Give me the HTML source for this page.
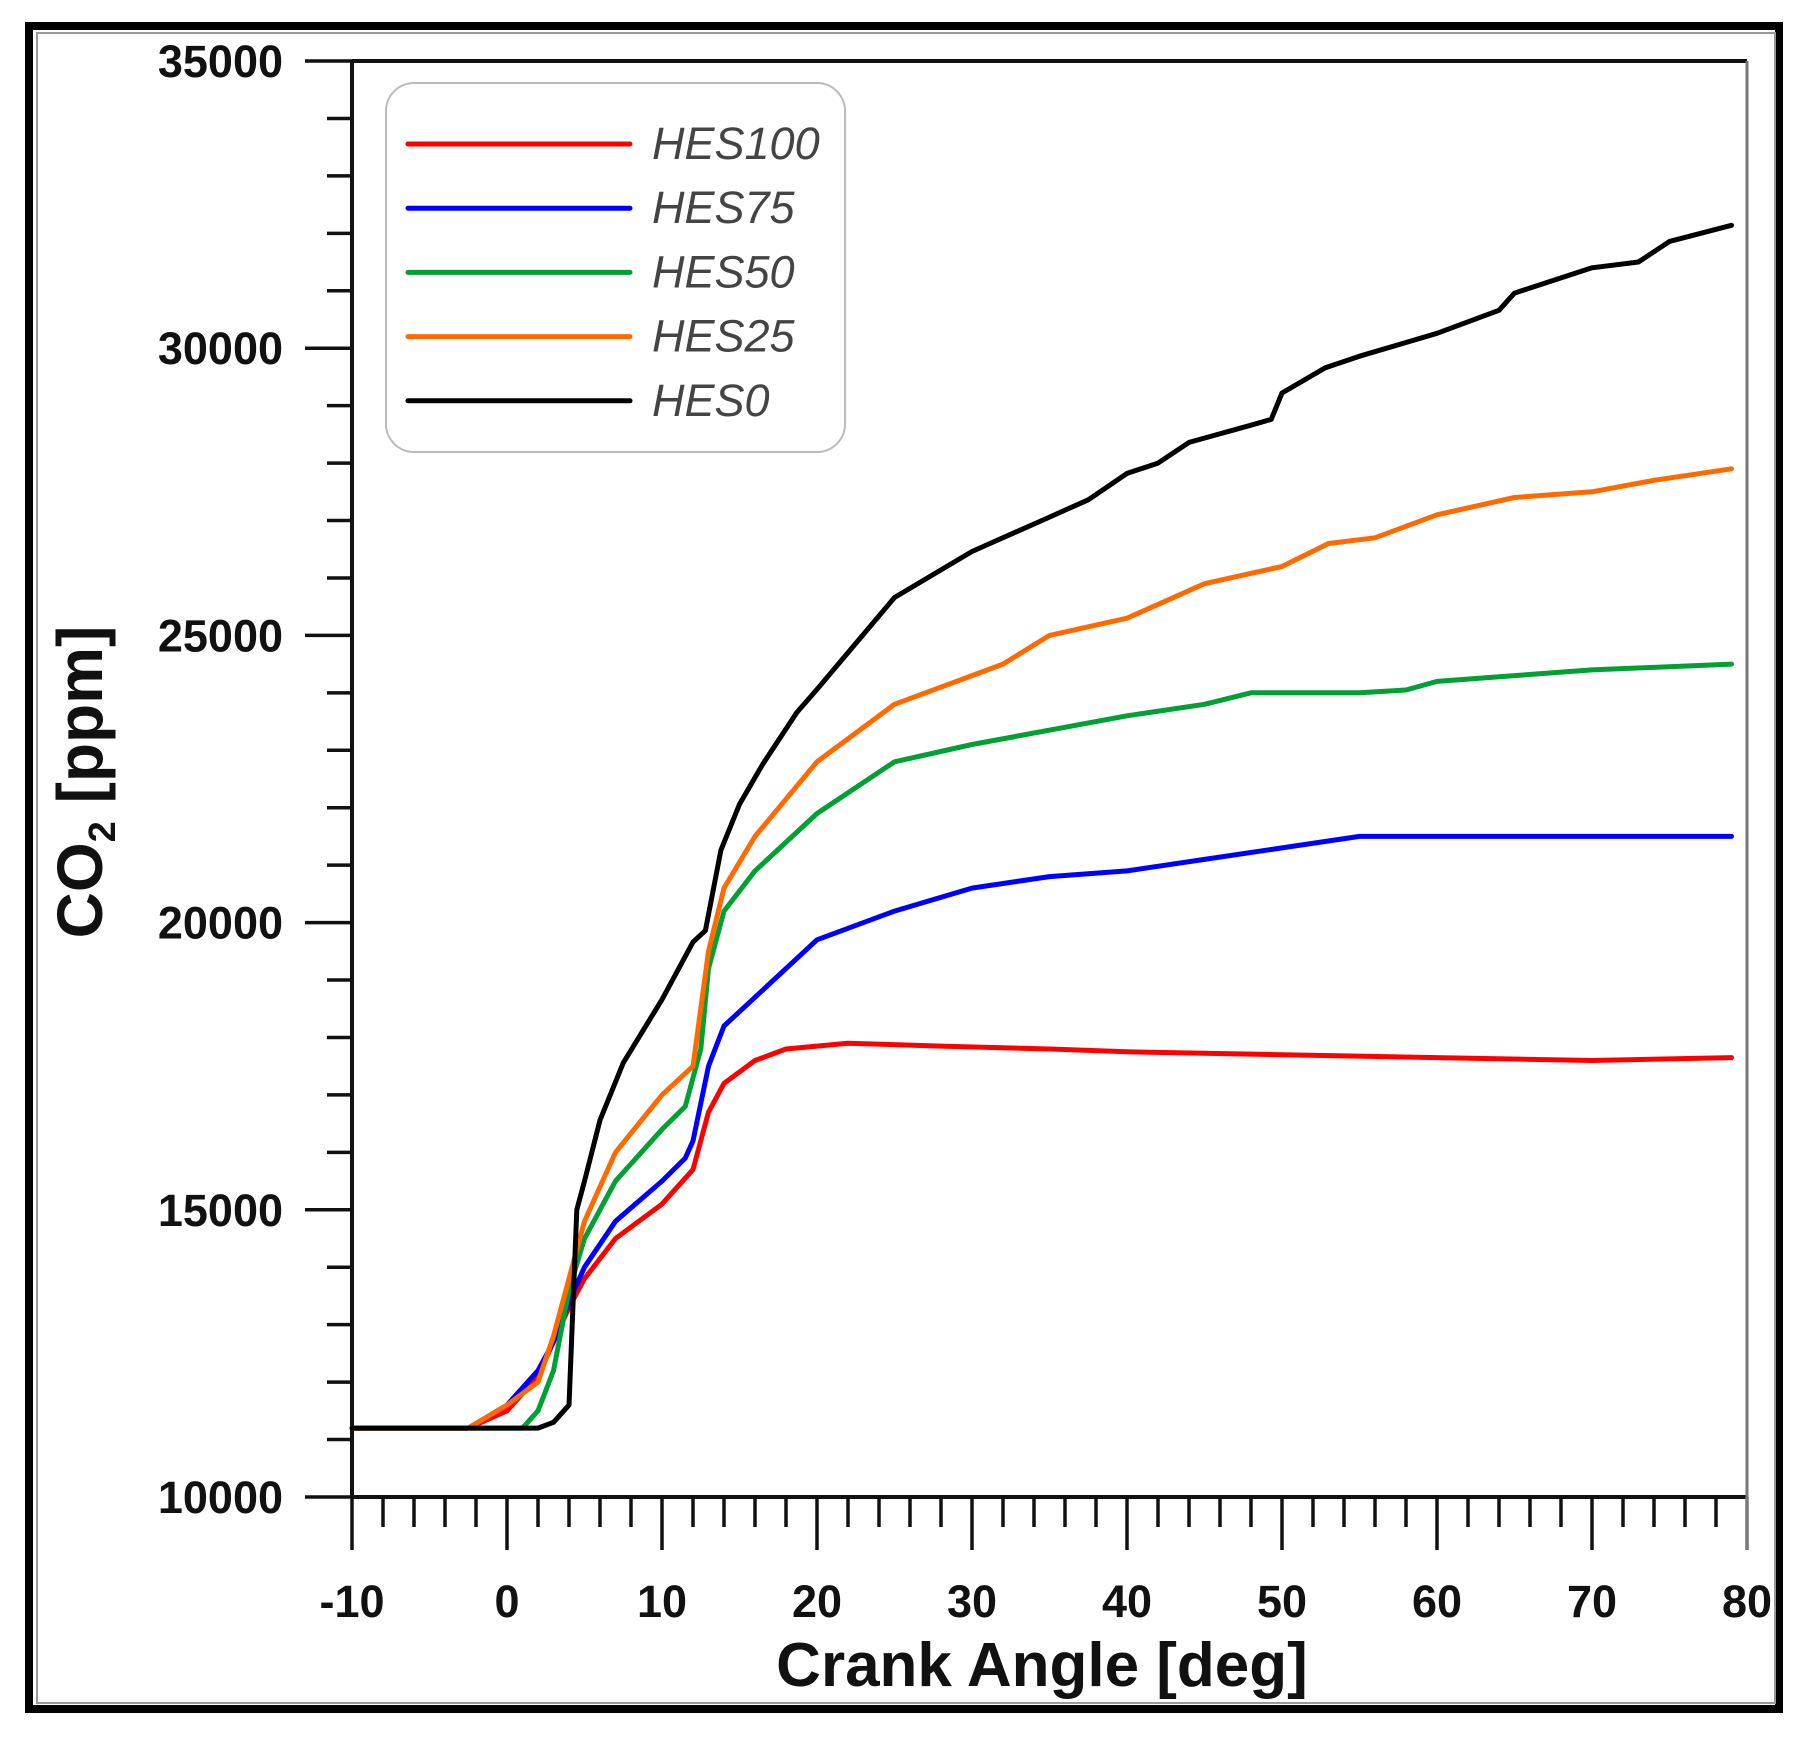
<!DOCTYPE html>
<html><head><meta charset="utf-8"><style>
html,body{margin:0;padding:0;background:#fff}
svg{display:block}
</style></head><body>
<svg id="chart" width="1806" height="1749" viewBox="0 0 1806 1749" xmlns="http://www.w3.org/2000/svg" font-family="Liberation Sans, Arial, sans-serif">
<rect x="29" y="26" width="1750" height="1683" fill="#fff" stroke="#000" stroke-width="8"/>
<rect x="37" y="33" width="1738" height="1670" fill="none" stroke="#999" stroke-width="2"/>
<g id="axes"></g>
<g id="series"></g>
<g>
<rect x="386" y="83" width="459" height="369" rx="28" fill="#fff" stroke="#bbb" stroke-width="2"/>
<g id="legend-entries"></g>
</g>
<text x="1042" y="1686" font-size="62" font-weight="bold" text-anchor="middle" fill="#111">Crank Angle [deg]</text>
<text transform="translate(102,782) rotate(-90)" font-size="64" font-weight="bold" text-anchor="middle" fill="#111">CO<tspan font-size="38" dy="13">2</tspan><tspan dy="-13"> [ppm]</tspan></text>
</svg>
<script>
const xTicks=[-10,0,10,20,30,40,50,60,70,80];
const yTicks=[10000,15000,20000,25000,30000,35000];
const seriesNames=["HES100","HES75","HES50","HES25","HES0"];
const seriesColors=["#ff0000","#0000ff","#00a033","#ff6a00","#000000"];
const hes100X=[-10,-2.5,0,2,3,4,5,7,10,11,12,13,14,16,18,22,28,35,40,50,60,70,79];
const hes100Y=[11200,11200,11500,12100,12700,13300,13800,14500,15100,15400,15700,16700,17200,17600,17800,17900,17850,17800,17750,17700,17650,17600,17650];
const hes75X=[-10,-2.5,0,2,3,4,5,7,10,11.5,12,13,14,16,20,25,30,35,40,45,50,55,58,79];
const hes75Y=[11200,11200,11600,12200,12700,13400,14000,14800,15500,15900,16200,17500,18200,18700,19700,20200,20600,20800,20900,21100,21300,21500,21500,21500];
const hes50X=[-10,1,2,3,4,5,7,10,11.5,12.5,13,14,16,20,25,30,40,45,48,55,58,60,65,70,79];
const hes50Y=[11200,11200,11500,12200,13600,14500,15500,16400,16800,17800,19200,20200,20900,21900,22800,23100,23600,23800,24000,24000,24050,24200,24300,24400,24500];
const hes25X=[-10,-2.5,0,2,3,5,7,10,12,13,14,16,20,25,30,32,35,40,45,50,53,56,60,65,70,74,79];
const hes25Y=[11200,11200,11600,12000,12800,14800,16000,17000,17500,19500,20600,21500,22800,23800,24300,24500,25000,25300,25900,26200,26600,26700,27100,27400,27500,27700,27900];
const hes0X=[-10,2,3,4,4.5,5,6,7.5,10,12,12.8,13.8,15,16.5,18.7,20,22.5,25,30,35,37.5,40,42,44,48,49.3,50,52.8,55,58,60,64,65,70,73,75,79];
const hes0Y=[11200,11200,11300,11600,15000,15500,16560,17560,18660,19660,19860,21260,22060,22760,23660,24060,24860,25660,26460,27060,27360,27820,28000,28360,28660,28760,29220,29660,29860,30100,30260,30660,30960,31400,31500,31860,32140];
const seriesX=[hes100X,hes75X,hes50X,hes25X,hes0X];
const seriesY=[hes100Y,hes75Y,hes50Y,hes25Y,hes0Y];

const NS="http://www.w3.org/2000/svg";
const X0=352,X1=1747,Y0=1497,Y1=61;
function xs(d){return X0+(d+10)/90*(X1-X0);}
function ys(v){return Y0-(v-10000)/25000*(Y0-Y1);}
function mk(tag,attrs,parent){const e=document.createElementNS(NS,tag);for(const k in attrs)e.setAttribute(k,attrs[k]);parent.appendChild(e);return e;}
const axes=document.getElementById('axes');
let l=mk('line',{x1:X0,y1:Y1,x2:X0,y2:Y0,stroke:'#111','stroke-width':4},axes);


l=mk('line',{x1:X0,y1:Y0,x2:X1,y2:Y0,stroke:'#111','stroke-width':4},axes);


l=mk('line',{x1:X0,y1:Y1,x2:X1,y2:Y1,stroke:'#111','stroke-width':4},axes);


l=mk('line',{x1:X1,y1:Y1,x2:X1,y2:Y0,stroke:'#777','stroke-width':3},axes);


for(let v=10000;v<=35000;v+=1000){
 const major=(v%5000===0);
 const t=mk('line',{x1:major?305:327,y1:ys(v),x2:X0,y2:ys(v),stroke:'#111','stroke-width':3.5},axes);
 
 
}
yTicks.forEach(v=>{
 const t=mk('text',{x:283,y:ys(v)+16,'font-size':45,'font-weight':'bold','text-anchor':'end',fill:'#111'},axes);
 t.textContent=v;
 
 
});
for(let d=-10;d<=80;d+=2){
 const major=(d%10===0);
 const t=mk('line',{x1:xs(d),y1:Y0,x2:xs(d),y2:major?1550:1527,stroke:d===80?'#777':'#111','stroke-width':3.5},axes);
 
 
}
xTicks.forEach(d=>{
 const t=mk('text',{x:xs(d),y:1617,'font-size':45,'font-weight':'bold','text-anchor':'middle',fill:'#111'},axes);
 t.textContent=d;
 
 
});
const sg=document.getElementById('series');
seriesNames.forEach((n,i)=>{
 const pts=seriesX[i].map((d,j)=>xs(d).toFixed(1)+','+ys(seriesY[i][j]).toFixed(1)).join(' ');
 const p=mk('polyline',{points:pts,fill:'none',stroke:seriesColors[i],'stroke-width':5,'stroke-linejoin':'round','stroke-linecap':'round'},sg);
 
 
});
const lg=document.getElementById('legend-entries');
seriesNames.forEach((n,i)=>{
 const y=144+i*64.2;
 const ln=mk('line',{x1:408,y1:y,x2:630,y2:y,stroke:seriesColors[i],'stroke-width':5,'stroke-linecap':'round'},lg);
 
 
 const t=mk('text',{x:652,y:y+15,'font-size':45,'font-style':'italic',fill:'#444'},lg);
 t.textContent=n;
 
 
});
</script>
</body></html>
